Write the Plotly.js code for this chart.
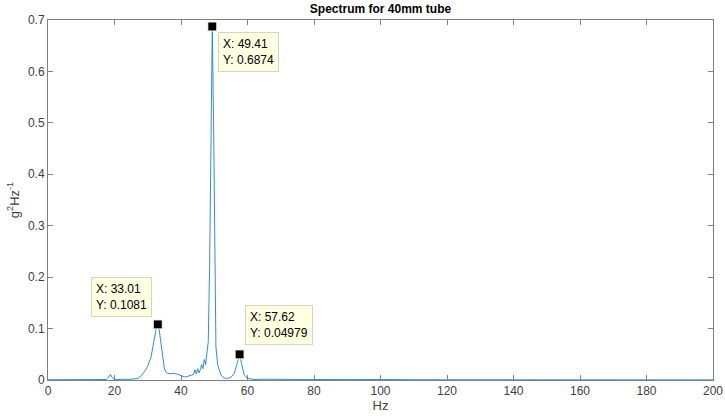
<!DOCTYPE html>
<html>
<head>
<meta charset="utf-8">
<script src="https://cdn.plot.ly/plotly-3.0.1.min.js"></script>
<style>html,body{margin:0;padding:0;background:#fff;}#chart{width:725px;height:418px;}</style>
</head>
<body>
<div id="chart"></div>
<script>
// Spectrum values (frequency in Hz, PSD in g^2/Hz)
const freq = [0, 5, 10, 15, 17.5, 18.3, 18.8, 19.2, 19.7, 20.5, 22, 25, 27, 28, 29, 30, 31, 32, 32.6, 33.01, 33.4, 34, 34.5, 35, 35.5, 36, 37, 38, 39, 40, 41, 42, 43, 43.8, 44.2, 44.6, 45, 45.4, 45.8, 46.2, 46.6, 47, 47.4, 47.8, 48.2, 48.6, 49, 49.41, 49.8, 50.2, 50.5, 51, 51.5, 52, 53, 54, 55, 56, 56.8, 57.62, 58.3, 59, 60, 62, 65, 70, 80, 90, 98, 99.5, 101, 110, 120, 140, 160, 180, 200];
const psd  = [0.0005, 0.0005, 0.001, 0.001, 0.001, 0.006, 0.011, 0.006, 0.002, 0.001, 0.001, 0.0015, 0.003, 0.008, 0.016, 0.027, 0.045, 0.08, 0.102, 0.1081, 0.1, 0.07, 0.04, 0.022, 0.015, 0.013, 0.012, 0.013, 0.011, 0.008, 0.006, 0.007, 0.009, 0.011, 0.02, 0.012, 0.022, 0.014, 0.02, 0.03, 0.022, 0.04, 0.03, 0.06, 0.075, 0.22, 0.5, 0.6874, 0.5, 0.2, 0.065, 0.03, 0.018, 0.01, 0.004, 0.003, 0.005, 0.013, 0.03, 0.04979, 0.03, 0.01, 0.003, 0.001, 0.0015, 0.001, 0.001, 0.0008, 0.001, 0.002, 0.001, 0.0005, 0.0004, 0.0003, 0.0003, 0.0003, 0.0003];

// Data tips
const tipX = [33.01, 49.41, 57.62];
const tipY = [0.1081, 0.6874, 0.04979];
const tipXanchor = ['right', 'left', 'left'];
const tipYanchor = ['bottom', 'top', 'bottom'];
const tipXshift = [-6, 6, 5];
const tipYshift = [7, -6, 9];

const xTicks = [0, 20, 40, 60, 80, 100, 120, 140, 160, 180, 200];
const yTicks = [0, 0.1, 0.2, 0.3, 0.4, 0.5, 0.6, 0.7];

const font = 'Liberation Sans, Arial, Helvetica, sans-serif';
const axisColor = '#808080';

const traces = [
  {x: freq, y: psd, type: 'scatter', mode: 'lines', line: {color: '#1f7fc8', width: 0.9}, hoverinfo: 'skip'},
  {x: tipX, y: tipY, type: 'scatter', mode: 'markers', marker: {symbol: 'square', size: 9, color: '#000', line: {color: '#ffffe0', width: 1}}, hoverinfo: 'skip'}
];

const annotations = tipX.map((x, i) => ({
  x: x, y: tipY[i], xref: 'x', yref: 'y', showarrow: false,
  xanchor: tipXanchor[i], yanchor: tipYanchor[i], xshift: tipXshift[i], yshift: tipYshift[i],
  text: 'X: ' + x + '<br>Y: ' + tipY[i], align: 'left',
  font: {family: font, size: 12, color: '#000'},
  bgcolor: '#ffffe1', bordercolor: '#d6d6c0', borderwidth: 1, borderpad: 4
}));

const axisCommon = {
  showgrid: false, zeroline: false, showline: true, mirror: 'ticks', linecolor: axisColor, linewidth: 1,
  ticks: 'inside', ticklen: 5, tickcolor: axisColor, tickfont: {family: font, size: 12, color: '#404040'}
};

const layout = {
  width: 725, height: 418,
  margin: {l: 48, r: 12, t: 20, b: 38},
  paper_bgcolor: '#fff', plot_bgcolor: '#fff',
  showlegend: false,
  title: {text: '<b>Spectrum for 40mm tube</b>', x: 0.5, xref: 'paper', y: 0.978, yref: 'container', yanchor: 'middle', font: {family: font, size: 12, color: '#000'}},
  xaxis: Object.assign({}, axisCommon, {range: [0, 200], tickvals: xTicks, ticktext: xTicks.map(String),
    title: {text: 'Hz', standoff: 3, font: {family: font, size: 13, color: '#404040'}}}),
  yaxis: Object.assign({}, axisCommon, {range: [0, 0.7], tickvals: yTicks, ticktext: yTicks.map(String),
    title: {text: 'g<sup>2</sup>Hz<sup>-1</sup>', standoff: 5, font: {family: font, size: 13, color: '#404040'}}}),
  annotations: annotations
};

Plotly.newPlot('chart', traces, layout, {displayModeBar: false, staticPlot: true});
</script>
</body>
</html>
